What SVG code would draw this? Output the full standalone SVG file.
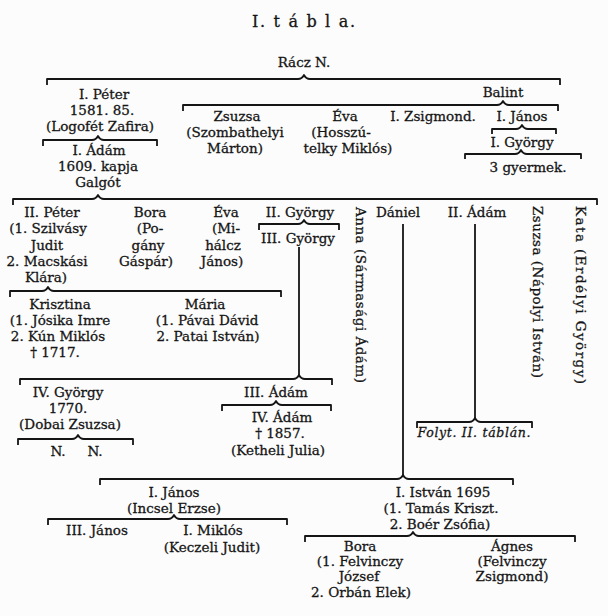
<svg xmlns="http://www.w3.org/2000/svg" width="608" height="616" viewBox="0 0 608 616">
<style>
text{font-family:"DejaVu Serif","Liberation Serif",serif;font-size:13.5px;fill:#151515;stroke:#151515;stroke-width:0.3px;text-anchor:middle}
.t{font-size:16px;letter-spacing:1px}
.it{font-style:italic;font-size:12.5px}
.v{text-anchor:start}
.br{fill:none;stroke:#151515;stroke-width:1.8;stroke-linejoin:round}
</style>
<rect width="608" height="616" fill="#fcfcfc"/>
<g id="title"><text class="t" x="304" y="27" textLength="104">I. t á b l a.</text></g>
<g id="connectors">
<path class="br" d="M47,85 V79 H298 Q302,79 304,75 Q306,79 310,79 H560 V85"/>
<path class="br" d="M183,111 V105 H497 Q501,105 503,101 Q505,105 509,105 H558 V111"/>
<path class="br" d="M43,146 V140 H92 Q96,140 98,136 Q100,140 104,140 H157 V146"/>
<path class="br" d="M492,134 V129 H516 Q520,129 522,125 Q524,129 528,129 H556 V134"/>
<path class="br" d="M465,159 V154 H515 Q519,154 521,150 Q523,154 527,154 H581 V159"/>
<path class="br" d="M13,205 V199 H92 Q96,199 98,195 Q100,199 104,199 H597 V205"/>
<path class="br" d="M259,230 V224 H298 Q302,224 304,220 Q306,224 310,224 H339 V230"/>
<path class="br" d="M10,297 V291 H42 Q46,291 48,287 Q50,291 54,291 H281 V297"/>
<path class="br" d="M20,385 V379 H293 Q297,379 299,375 Q301,379 305,379 H332 V385"/>
<path class="br" d="M18,445 V439 H72 Q76,439 78,435 Q80,439 84,439 H133 V445"/>
<path class="br" d="M222,411 V405 H270 Q274,405 276,401 Q278,405 282,405 H331 V411"/>
<path class="br" d="M417,428 V422 H469 Q473,422 475,418 Q477,422 481,422 H532 V428"/>
<path class="br" d="M100,485 V479 H397 Q401,479 403,475 Q405,479 409,479 H513 V485"/>
<path class="br" d="M48,525 V519 H168 Q172,519 174,515 Q176,519 180,519 H287 V525"/>
<path class="br" d="M305,542 V536 H407 Q411,536 413,532 Q415,536 419,536 H575 V542"/>
<path class="br" d="M299,247 V375"/>
<path class="br" d="M403,224 V475"/>
<path class="br" d="M475,224 V418"/>
</g>
<g id="racz"><text x="304" y="67">Rácz N.</text></g>
<g id="peter1"><text x="104" y="99">I. Péter</text><text x="102" y="115">1581. 85.</text><text x="100" y="131">(Logofét Zafira)</text></g>
<g id="adam1"><text x="99" y="155">I. Ádám</text><text x="98" y="171">1609. kapja</text><text x="98" y="187">Galgót</text></g>
<g id="balint"><text x="503" y="97">Balint</text></g>
<g id="zsuzsa1"><text x="237" y="121">Zsuzsa</text><text x="235" y="137">(Szombathelyi</text><text x="235" y="153">Márton)</text></g>
<g id="eva1"><text x="345" y="121">Éva</text><text x="341" y="137">(Hosszú-</text><text x="348" y="153">telky Miklós)</text></g>
<g id="zsigmond1"><text x="433" y="121">I. Zsigmond.</text></g>
<g id="janos1"><text x="522" y="121">I. János</text></g>
<g id="gyorgy1"><text x="522" y="147">I. György</text></g>
<g id="gyermek"><text x="528" y="172">3 gyermek.</text></g>
<g id="peter2"><text x="52" y="217">II. Péter</text><text x="48" y="233">(1. Szilvásy</text><text x="47" y="250">Judit</text><text x="47" y="266">2. Macskási</text><text x="46" y="282">Klára)</text></g>
<g id="bora1"><text x="150" y="217">Bora</text><text x="150" y="233">(Po-</text><text x="148" y="250">gány</text><text x="146" y="266">Gáspár)</text></g>
<g id="eva2"><text x="226" y="217">Éva</text><text x="226" y="233">(Mi-</text><text x="223" y="250">hálcz</text><text x="222" y="266">János)</text></g>
<g id="gyorgy2"><text x="300" y="217">II. György</text></g>
<g id="gyorgy3"><text x="298" y="243">III. György</text></g>
<g id="anna"><text class="v" transform="translate(356,207) rotate(90)" textLength="176">Anna (Sármasági Ádám)</text></g>
<g id="daniel"><text x="398" y="217">Dániel</text></g>
<g id="adam2"><text x="477" y="217">II. Ádám</text></g>
<g id="zsuzsa2"><text class="v" transform="translate(533,206) rotate(90)" textLength="172">Zsuzsa (Nápolyi István)</text></g>
<g id="kata"><text class="v" transform="translate(576,206) rotate(90)" textLength="178">Kata (Erdélyi György)</text></g>
<g id="krisztina"><text x="60" y="309">Krisztina</text><text x="60" y="325">(1. Jósika Imre</text><text x="58" y="341">2. Kún Miklós</text><text x="55" y="357">† 1717.</text></g>
<g id="maria"><text x="205" y="309">Mária</text><text x="207" y="325">(1. Pávai Dávid</text><text x="208" y="341">2. Patai István)</text></g>
<g id="gyorgy4"><text x="68" y="397">IV. György</text><text x="68" y="413">1770.</text><text x="70" y="429">(Dobai Zsuzsa)</text></g>
<g id="nn"><text x="58" y="456">N.</text><text x="95" y="456">N.</text></g>
<g id="adam3"><text x="276" y="397">III. Ádám</text></g>
<g id="adam4"><text x="282" y="422">IV. Ádám</text><text x="280" y="438">† 1857.</text><text x="278" y="455">(Ketheli Julia)</text></g>
<g id="folyt"><text class="it" x="474" y="437" textLength="113">Folyt. II. táblán.</text></g>
<g id="janos2"><text x="174" y="497">I. János</text><text x="174" y="513">(Incsel Erzse)</text></g>
<g id="istvan1"><text x="443" y="497">I. István 1695</text><text x="441" y="513">(1. Tamás Kriszt.</text><text x="440" y="529">2. Boér Zsófia)</text></g>
<g id="janos3"><text x="97" y="535">III. János</text></g>
<g id="miklos1"><text x="213" y="535">I. Miklós</text><text x="212" y="552">(Keczeli Judit)</text></g>
<g id="bora2"><text x="360" y="551">Bora</text><text x="360" y="566">(1. Felvinczy</text><text x="359" y="581">József</text><text x="361" y="597">2. Orbán Elek)</text></g>
<g id="agnes"><text x="512" y="551">Ágnes</text><text x="512" y="566">(Felvinczy</text><text x="512" y="581">Zsigmond)</text></g>
</svg>
